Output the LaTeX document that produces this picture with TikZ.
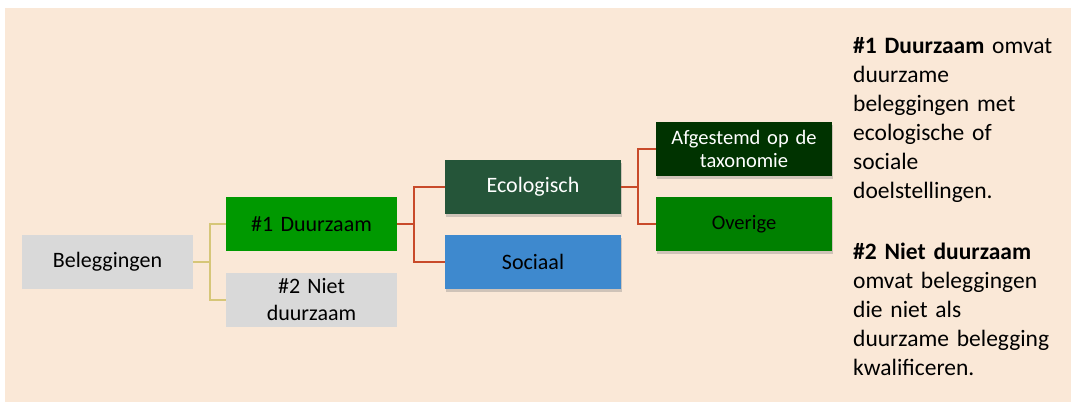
\documentclass[tikz,border=0pt]{standalone}
\usepackage{fontspec}
\setmainfont{Carlito}
\usetikzlibrary{shadows}

\definecolor{paleorange}{RGB}{250,232,215}
\definecolor{boxgrey}{RGB}{217,217,217}
\definecolor{brightgreen}{RGB}{0,153,0}
\definecolor{forestgreen}{RGB}{37,85,57}
\definecolor{skyblue}{RGB}{62,137,206}
\definecolor{darkgreen}{RGB}{0,51,0}
\definecolor{midgreen}{RGB}{0,128,0}
\definecolor{khaki}{RGB}{214,198,120}
\definecolor{rust}{RGB}{200,74,42}

\begin{document}
\begin{tikzpicture}[x=1pt,y=-1pt,
		box/.style={minimum width=171pt,minimum height=54pt,inner sep=2pt,
			text width=165pt,align=center,font=\fontsize{22}{25}\selectfont},
		widebox/.style={box,minimum width=176pt,text width=170pt},
		smalltext/.style={font=\fontsize{20.5}{23}\selectfont},
		shade/.style={drop shadow={shadow xshift=1pt,shadow yshift=-3pt,opacity=0.35}},
		linkA/.style={khaki,line width=1.5pt},
		linkB/.style={rust,line width=1.5pt}]
				\useasboundingbox (0,0) rectangle (1072,403);
				\fill[paleorange] (5,8) rectangle (1071,402);
				% first level
				\node[box,fill=boxgrey] (bel) at (107.5,262) {Beleggingen};
				\node[box,fill=brightgreen] (d1) at (311.5,224) {\#1 Duurzaam};
				\node[box,fill=boxgrey,font=\fontsize{22}{27}\selectfont] (d2) at (311.5,300) {\#2 Niet\\duurzaam};
				% second level
				\node[widebox,shade,fill=forestgreen,text=white] (eco) at (533,187) {Ecologisch};
				\node[widebox,shade,fill=skyblue] (soc) at (533,262) {Sociaal};
				\node[widebox,shade,smalltext,fill=darkgreen,text=white] (afg) at (744,149) {Afgestemd op de\\taxonomie};
				\node[widebox,shade,smalltext,fill=midgreen] (ove) at (744,224) {Overige};
				% connectors
				\draw[linkA] (bel.east) -- +(17,0) |- (d1.west);
				\draw[linkA] (bel.east) -- +(17,0) |- (d2.west);
				\draw[linkB] (d1.east) -- +(17,0) |- (eco.west);
				\draw[linkB] (d1.east) -- +(17,0) |- (soc.west);
				\draw[linkB] (eco.east) -- +(17,0) |- (afg.west);
				\draw[linkB] (eco.east) -- +(17,0) |- (ove.west);
				% explanation
				\node[anchor=north west,inner sep=0pt,text width=215pt,align=left,
					font=\fontsize{23.5}{29}\selectfont] (note) at (853,37)
					{\textbf{\#1 Duurzaam} omvat\\duurzame\\beleggingen met\\ecologische of\\sociale\\doelstellingen.\\[32.7pt]
					\textbf{\#2 Niet duurzaam}\\omvat beleggingen\\die niet als\\duurzame belegging\\kwalificeren.};
			\end{tikzpicture}
\end{document}
